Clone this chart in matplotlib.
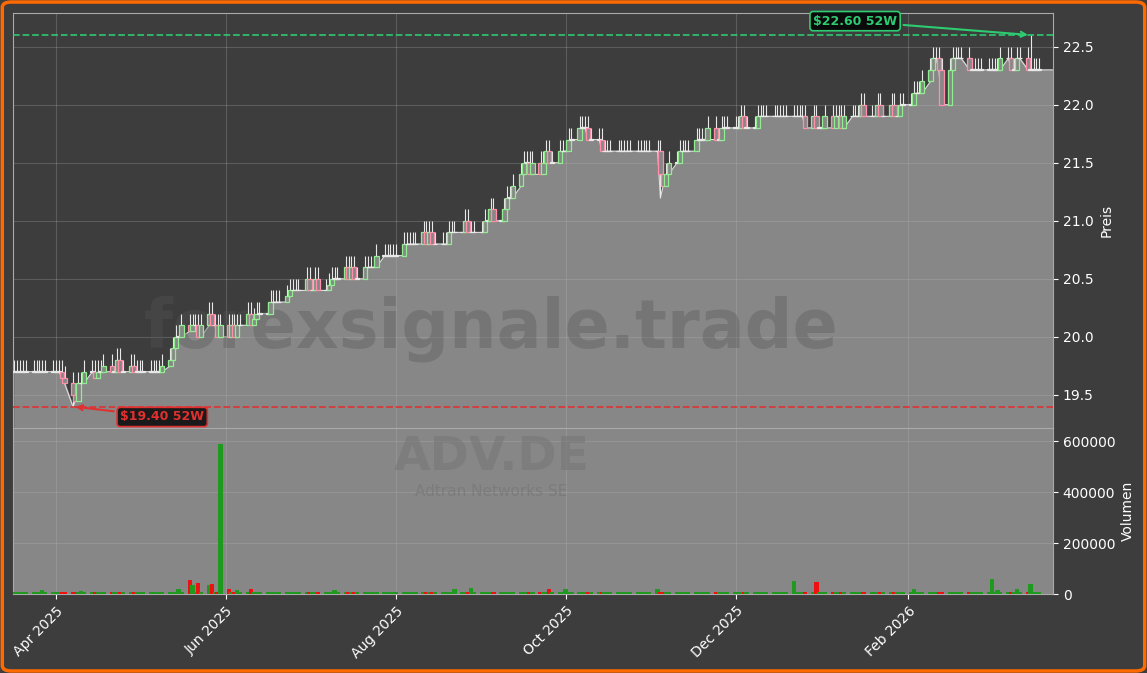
import numpy as np
import pandas as pd
import matplotlib
matplotlib.use("Agg")
import matplotlib.pyplot as plt
import matplotlib.dates as mdates
from matplotlib.patches import Rectangle, FancyBboxPatch

# daily closes per month
close_mar25 = [19.7] * 11
close_apr25 = [19.7, 19.7, 19.65, 19.6, 19.5, 19.45, 19.6, 19.6, 19.7, 19.7, 19.65,
               19.7, 19.7, 19.75, 19.7, 19.7, 19.8, 19.7, 19.7, 19.75, 19.7, 19.7]
close_may25 = [19.7] * 6 + [19.75, 19.8, 19.9, 20.0, 20.0, 20.1, 20.05, 20.1, 20.1, 20.0,
                            20.1, 20.2, 20.1, 20.1, 20.0, 20.1]
close_jun25 = [20.0, 20.1, 20.0, 20.1, 20.1, 20.2, 20.1, 20.15, 20.2, 20.2, 20.2, 20.3,
               20.3, 20.3, 20.3, 20.35, 20.4, 20.4, 20.4, 20.4, 20.5]
close_jul25 = [20.4, 20.4, 20.5, 20.4, 20.4, 20.45, 20.5, 20.5, 20.5, 20.6, 20.5, 20.6,
               20.5, 20.5, 20.6, 20.6, 20.6, 20.6, 20.7, 20.7, 20.7, 20.7, 20.7]
close_aug25 = [20.7, 20.8, 20.8, 20.8, 20.8, 20.8, 20.9, 20.8, 20.9, 20.8, 20.8, 20.8,
               20.8, 20.9, 20.9, 20.9, 20.9, 21.0, 20.9, 20.9, 20.9]
close_sep25 = [20.9, 21.0, 21.0, 21.1, 21.0, 21.0, 21.1, 21.2, 21.2, 21.3, 21.4, 21.5,
               21.5, 21.4, 21.5, 21.4, 21.5, 21.6, 21.5, 21.5, 21.6, 21.6]
close_oct25 = [21.6, 21.7, 21.7, 21.8, 21.8, 21.8, 21.7, 21.7, 21.7] + [21.6] * 14
close_nov25 = [21.6, 21.4, 21.3, 21.4, 21.5, 21.5, 21.6, 21.6, 21.6, 21.6, 21.7, 21.7,
               21.7, 21.7, 21.8, 21.7, 21.7, 21.8, 21.8, 21.8]
close_dec25 = [21.8, 21.8, 21.9, 21.8, 21.8, 21.8] + [21.9] * 13 + [21.8, 21.9, 21.8, 21.8]
close_jan26 = [21.8, 21.9, 21.8, 21.9, 21.9, 21.8, 21.9, 21.9, 21.9, 21.9, 22.0, 21.9,
               21.9, 21.9, 22.0, 21.9, 21.9, 22.0, 21.9, 21.9, 22.0, 22.0]
close_feb26 = [22.0, 22.1, 22.1, 22.1, 22.2, 22.3, 22.4, 22.4, 22.3, 22.0, 22.3, 22.4,
               22.4, 22.4, 22.4, 22.3, 22.3, 22.3, 22.3, 22.3]
close_mar26 = [22.3, 22.3, 22.3, 22.3, 22.4, 22.4, 22.3, 22.3, 22.4, 22.4, 22.3, 22.3,
               22.3, 22.3, 22.3]

# wick extremes that differ from close +/- 0.1
low_points = {"2025-04-07": 19.4, "2025-11-04": 21.2, "2026-02-13": 22.0}
high_points = {"2026-03-17": 22.6}

# volume: small base per day, named spikes
vol_base = 7000
vol_points = {"2025-03-27": 15000, "2025-04-10": 12000, "2025-05-15": 20000, "2025-05-19": 55000,
              "2025-05-20": 35000, "2025-05-22": 45000, "2025-05-26": 35000, "2025-05-27": 40000,
              "2025-05-30": 590000, "2025-06-02": 20000, "2025-06-05": 15000, "2025-06-10": 18000,
              "2025-07-10": 15000, "2025-08-22": 20000, "2025-08-28": 22000, "2025-09-25": 20000,
              "2025-10-01": 18000, "2025-11-03": 20000, "2025-12-22": 50000, "2025-12-30": 48000,
              "2026-02-03": 18000, "2026-03-03": 60000, "2026-03-05": 15000, "2026-03-12": 18000,
              "2026-03-17": 40000}

close = np.array(close_mar25 + close_apr25 + close_may25 + close_jun25 + close_jul25 +
                 close_aug25 + close_sep25 + close_oct25 + close_nov25 + close_dec25 +
                 close_jan26 + close_feb26 + close_mar26)
dates = pd.bdate_range("2025-03-17", periods=len(close))
opens = np.concatenate([[close[0]], close[:-1]])
high = np.maximum(opens, close) + 0.1
low = np.minimum(opens, close)
for d, v in low_points.items():
    low[dates.get_loc(pd.Timestamp(d))] = v
for d, v in high_points.items():
    high[dates.get_loc(pd.Timestamp(d))] = v
volume = np.full(len(close), vol_base, dtype=float)
for d, v in vol_points.items():
    volume[dates.get_loc(pd.Timestamp(d))] = v

BG = "#3d3d3d"
FILL = "#878787"
fig = plt.figure(figsize=(11.47, 6.73), dpi=100, facecolor=BG)
fig.patches.append(FancyBboxPatch((0.002, 0.003), 0.996, 0.994, boxstyle="round,pad=0,rounding_size=0.008",
                                  transform=fig.transFigure, fill=False, edgecolor="#ff6a00", linewidth=2.5))
W, H = 1147, 673
ax = fig.add_axes([13 / W, 1 - 428 / H, 1040 / W, 415 / H])
axv = fig.add_axes([13 / W, 1 - 594 / H, 1040 / W, 166 / H], sharex=ax)

x = mdates.date2num(dates)
x0 = mdates.date2num(pd.Timestamp("2025-03-16 12:00"))
x1 = mdates.date2num(pd.Timestamp("2026-03-25"))
ymin, ymax = 19.215, 22.79

for a in (ax, axv):
    a.set_facecolor(BG)
    for s in a.spines.values():
        s.set_color("#aaaaaa")
    a.yaxis.tick_right()
    a.yaxis.set_label_position("right")
    a.tick_params(colors="white", labelsize=10)
    a.grid(True, color="#bbbbbb", alpha=0.25, linewidth=0.8)

# price area under low line
xf = np.append(x, x[-1] + 5)
lf = np.append(low, close[-1])
ax.fill_between(xf, lf, ymin, color=FILL, zorder=1)
ax.plot(xf, lf, color="#dddddd", linewidth=0.8, zorder=2)

for xi, o, c, h, l in zip(x, opens, close, high, low):
    if c > o:
        col = "#90ee90"
    elif c < o:
        col = "#ff8fab"
    else:
        col = "#e8e8e8"
    ax.vlines(xi, l, h, color="#e8e8e8", linewidth=0.8, zorder=3)
    bot, top = min(o, c), max(o, c)
    ax.add_patch(Rectangle((xi - 0.8, bot), 1.6, max(top - bot, 0.004), facecolor=FILL,
                           edgecolor=col, linewidth=0.9, zorder=4))

hi52, lo52 = high.max(), low.min()
ax.axhline(hi52, color="#2ecc71", linestyle="--", linewidth=1.3, alpha=0.9, zorder=5)
ax.axhline(lo52, color="#e03030", linestyle="--", linewidth=1.3, alpha=0.9, zorder=5)
xh = x[np.argmax(high)]
xl = x[np.argmin(low)]
ax.annotate(f"${hi52:.2f} 52W", xy=(xh, hi52), xytext=(xh - 48, 22.72), color="#2ecc71",
            fontsize=9, fontweight="bold", ha="right", va="center",
            bbox=dict(boxstyle="round,pad=0.25", fc="#0a0a0a", ec="#2ecc71", lw=1.2),
            arrowprops=dict(arrowstyle="->", color="#2ecc71", lw=1.5), zorder=6)
ax.annotate(f"${lo52:.2f} 52W", xy=(xl, lo52), xytext=(xl + 17, 19.31), color="#e03030",
            fontsize=9, fontweight="bold", ha="left", va="center",
            bbox=dict(boxstyle="round,pad=0.25", fc="#1a1a1a", ec="#e03030", lw=1.2),
            arrowprops=dict(arrowstyle="->", color="#e03030", lw=1.5), zorder=6)

ax.text(0.46, 0.24, "forexsignale.trade", transform=ax.transAxes, fontsize=48, fontweight="bold",
        color="#555555", alpha=0.35, ha="center", va="center", zorder=2)
ax.set_ylim(ymin, ymax)
ax.set_xlim(x0, x1)
ax.set_yticks([19.5, 20.0, 20.5, 21.0, 21.5, 22.0, 22.5])
ax.set_ylabel("Preis", color="white", fontsize=10)
plt.setp(ax.get_xticklabels(), visible=False)
ax.tick_params(axis="x", length=0)

# volume panel
axv.set_facecolor(FILL)
up = close >= opens
vcol = np.where(up, "#1f9a1f", "#ee1111")
axv.bar(x, volume, width=1.6, color=vcol, zorder=3)
axv.text(0.46, 0.82, "ADV.DE", transform=axv.transAxes, fontsize=34, fontweight="bold",
         color="#777777", alpha=0.6, ha="center", va="center", zorder=2)
axv.text(0.46, 0.62, "Adtran Networks SE", transform=axv.transAxes, fontsize=11,
         color="#777777", alpha=0.7, ha="center", va="center", zorder=2)
axv.set_ylim(0, 651000)
axv.set_yticks([0, 200000, 400000, 600000])
axv.set_yticklabels(["0", "200000", "400000", "600000"])
axv.set_ylabel("Volumen", color="white", fontsize=10)
axv.xaxis.set_major_locator(mdates.MonthLocator(bymonth=[2, 4, 6, 8, 10, 12]))
axv.xaxis.set_major_formatter(mdates.DateFormatter("%b %Y"))
plt.setp(axv.get_xticklabels(), rotation=45, ha="right", rotation_mode="anchor")
axv.set_xlim(x0, x1)

fig.savefig("out.png", dpi=100, facecolor=BG)
